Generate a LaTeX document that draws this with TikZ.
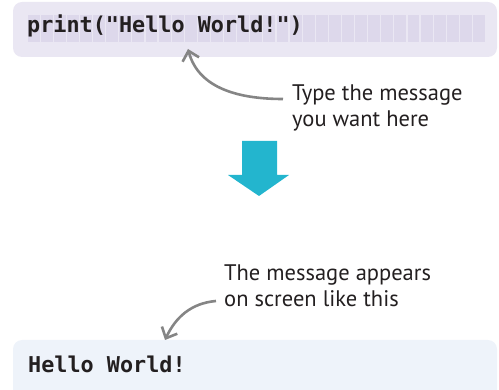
\documentclass[tikz,border=0pt]{standalone}
\usepackage{fontspec}
\setmainfont{PT Sans}
\setmonofont{DejaVu Sans Mono}
\usetikzlibrary{arrows.meta}
\definecolor{codebg}{HTML}{EAE7F3}
\definecolor{cellbg}{HTML}{DDD8EB}
\definecolor{outbg}{HTML}{EEF3FA}
\definecolor{notegrey}{HTML}{858585}
\definecolor{flowblue}{HTML}{23B5CE}
\definecolor{ink}{HTML}{231F20}

\begin{document}
\begin{tikzpicture}[
  x=1pt,y=-1pt,
  panel/.style={rounded corners=9pt},
  cell/.style={fill=cellbg},
  code/.style={font=\ttfamily\bfseries\fontsize{21.8}{26}\selectfont,text=ink,inner sep=0pt,anchor=base west},
  note/.style={font=\fontsize{22.5}{26}\selectfont,text=ink,align=left,inner sep=0pt,anchor=north west},
  pointer/.style={draw=notegrey,line width=2.6pt,-{Straight Barb[length=9pt,width=17pt]}}
]
  \useasboundingbox (0,0) rectangle (499,390);

  % input panel
  \fill[panel,codebg] (13,2) rectangle (497,57);
  \foreach \i in {0,...,34}
    \fill[cell] (27.6+\i*13.1,15) rectangle (39.5+\i*13.1,42);
  \node[code] (source) at (27,33) {print("Hello World!")};
  \coordinate (typetip) at (188,49);

  \node[note] (typenote) at (292,85) {Type the message\\you want here};
  \draw[pointer] ([xshift=-9pt,yshift=-14pt]typenote.north west) to[out=180,in=-75] (typetip);

  % down arrow
  \fill[flowblue] (242,141) -- (277,141) -- (277,175) -- (289,175) -- (259,196)
    -- (228,175) -- (242,175) -- cycle;

  % output panel
  \fill[panel,outbg] (13,340) rectangle (497,400);
  \node[code] (result) at (28,373) {Hello World!};
  \coordinate (outtip) at (165,340);

  \node[note] (outnote) at (224,265) {The message appears\\on screen like this};
  \draw[pointer] ([xshift=-8pt,yshift=-36pt]outnote.north west) to[out=185,in=65] (outtip);
\end{tikzpicture}
\end{document}
